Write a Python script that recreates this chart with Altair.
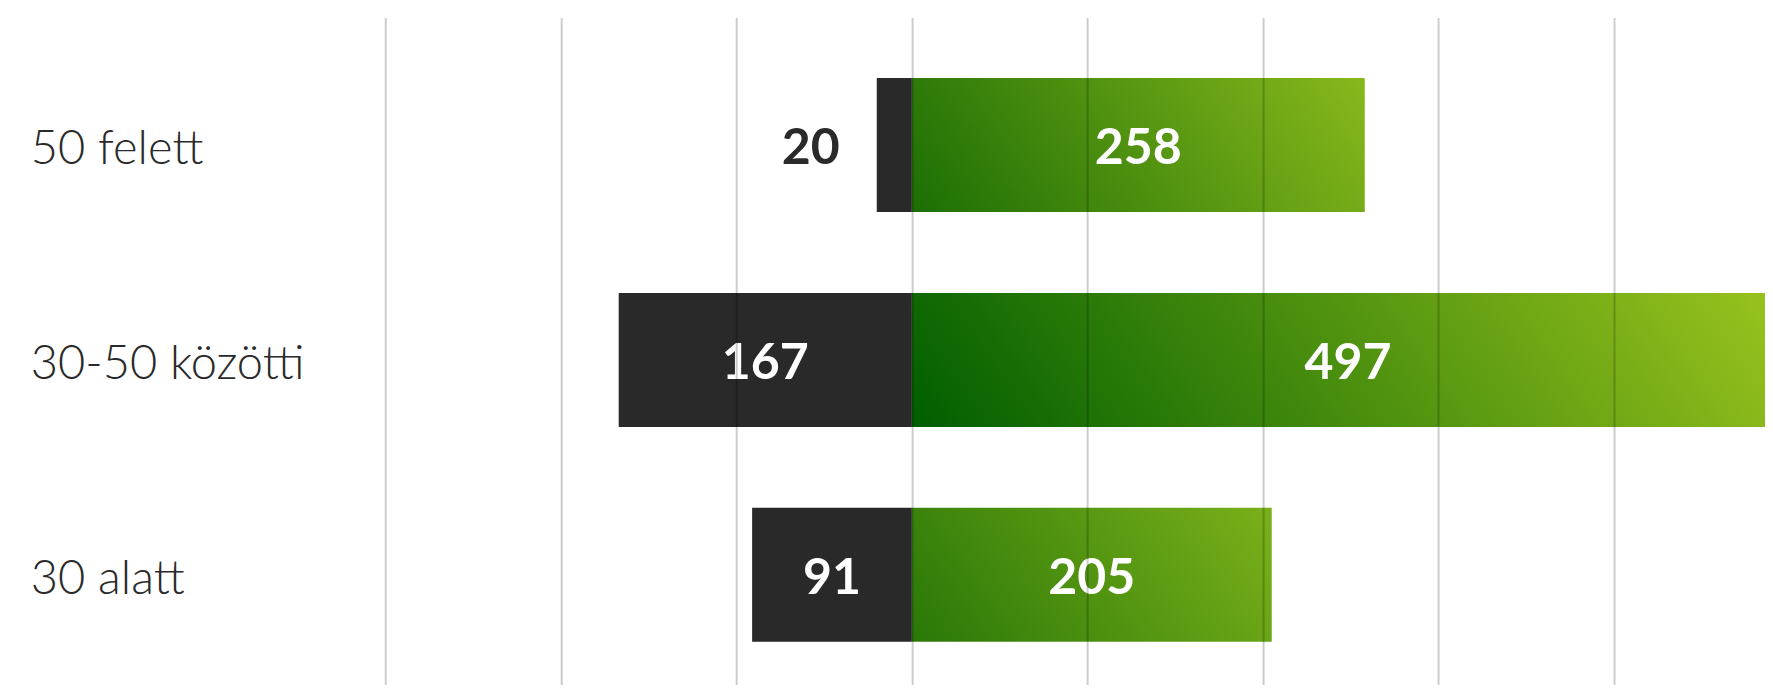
import math
import altair as alt
import pandas as pd

categories = ["50 felett", "30-50 közötti", "30 alatt"]
dark_values = [20, 167, 91]
green_values = [258, 497, 205]
grid_values = [-300, -200, -100, 0, 100, 200, 300, 400]

# gradient colours per bar (start at bottom-left, end at top-right)
grad_start = ["#1c6e05", "#005e00", "#2a7808"]
grad_end = ["#88b81c", "#9bc41e", "#7ab01a"]

DARK = "#292929"
PX_PER_UNIT = 1.7555
BAR_H = 134.0

df = pd.DataFrame({"cat": categories, "neg": dark_values, "pos": green_values})
df["neg_start"] = -df["neg"]
df["zero"] = 0
df["neg_mid"] = -df["neg"] / 2
df["pos_mid"] = df["pos"] / 2

xscale = alt.Scale(domain=[-300, 486], nice=False, zero=False)
yscale = alt.Scale(domain=categories, paddingInner=0.3765, paddingOuter=0.24,
                   align=0.587, round=False)

xaxis = alt.Axis(values=grid_values, grid=True, labels=False, ticks=False,
                 domain=False, title=None, gridColor="#000000",
                 gridOpacity=0.2, gridWidth=2, zindex=1)
yaxis = alt.Axis(title=None, ticks=False, tickSize=0, domain=False, grid=False,
                 labelAlign="left", labelPadding=355, labelFont="Lato",
                 labelFontSize=47, labelFontWeight=300, labelColor="#2a2a2a",
                 labelBaseline="middle", labelLimit=0, labelOffset=5)


def Y():
    return alt.Y("cat:N", sort=categories, scale=yscale, axis=yaxis)


def gradient(width_px, height_px, c0, c1, angle_deg=35.0):
    a = math.radians(angle_deg)
    gx = math.cos(a) / height_px
    gy = -math.sin(a) / width_px
    k = (gx - gy) / (gx * gx + gy * gy)
    return alt.LinearGradient(
        gradient="linear",
        stops=[alt.GradientStop(color=c0, offset=0),
               alt.GradientStop(color=c1, offset=1)],
        x1=0, y1=1, x2=k * gx, y2=1 + k * gy)


base = alt.Chart(df)

dark_bars = base.mark_bar(color=DARK, clip=True).encode(
    x=alt.X("neg_start:Q", scale=xscale, axis=xaxis),
    x2="zero:Q",
    y=Y(),
)

green_layers = []
for i, cat in enumerate(categories):
    w = green_values[i] * PX_PER_UNIT
    g = gradient(w, BAR_H, grad_start[i], grad_end[i])
    green_layers.append(
        base.transform_filter(alt.datum.cat == cat).mark_bar(color=g, clip=True).encode(
            x=alt.X("zero:Q", scale=xscale, axis=xaxis),
            x2="pos:Q",
            y=Y(),
        )
    )

txt = dict(font="Lato", fontSize=50, fontWeight="bold", baseline="middle", dy=4)

dark_in = base.transform_filter(alt.datum.neg >= 50).mark_text(
    color="white", align="center", **txt).encode(
    x=alt.X("neg_mid:Q", scale=xscale, axis=xaxis), y=Y(), text="neg:Q")

dark_out = base.transform_filter(alt.datum.neg < 50).mark_text(
    color="#2a2a2a", align="right", dx=-37, **txt).encode(
    x=alt.X("neg_start:Q", scale=xscale, axis=xaxis), y=Y(), text="neg:Q")

green_txt = base.mark_text(color="white", align="center", **txt).encode(
    x=alt.X("pos_mid:Q", scale=xscale, axis=xaxis), y=Y(), text="pos:Q")

chart = alt.layer(dark_bars, *green_layers, dark_in, dark_out, green_txt).properties(
    width=1380,
    height=667,
    padding={"left": 377.3, "top": 9.5, "right": 0, "bottom": 0},
    autosize=alt.AutoSizeParams(type="none"),
    background="white",
).configure_view(stroke=None)

chart.save("out.html", embed_options={"renderer": "svg", "actions": False})
